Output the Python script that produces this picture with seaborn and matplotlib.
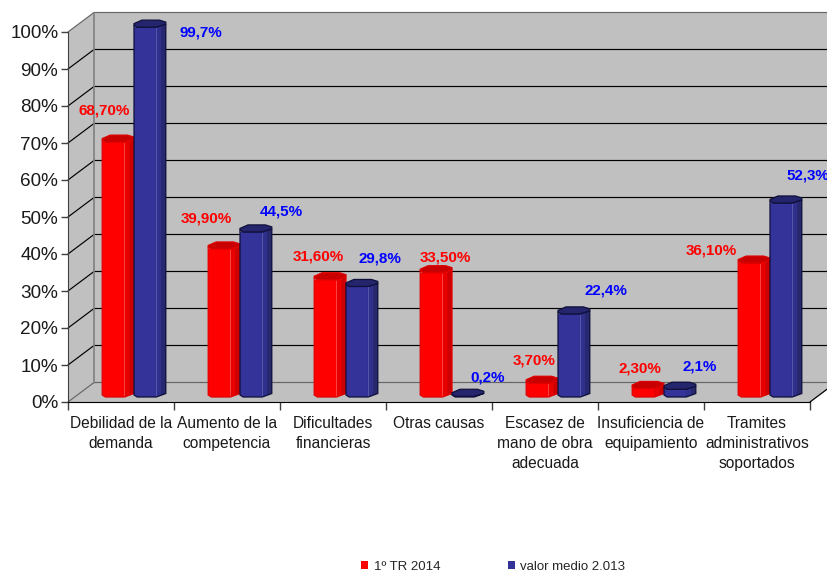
import numpy as np
import matplotlib
matplotlib.use("Agg")
import matplotlib.pyplot as plt
from matplotlib.patches import Polygon
import pandas as pd
import seaborn as sns

categories = ["Debilidad de la\ndemanda", "Aumento de la\ncompetencia", "Dificultades\nfinancieras",
              "Otras causas", "Escasez de\nmano de obra\nadecuada", "Insuficiencia de\nequipamiento",
              "Tramites\nadministrativos\nsoportados"]
series_names = ["1º TR 2014", "valor medio 2.013"]
tr_2014 = [0.687, 0.399, 0.316, 0.335, 0.037, 0.023, 0.361]
medio_2013 = [0.997, 0.445, 0.298, 0.002, 0.224, 0.021, 0.523]
tr_labels = ["68,70%", "39,90%", "31,60%", "33,50%", "3,70%", "2,30%", "36,10%"]
medio_labels = ["99,7%", "44,5%", "29,8%", "0,2%", "22,4%", "2,1%", "52,3%"]

# label offsets from the bar top, in pixels
tr_off = [(-14, 32), (-18, 30), (-12, 23), (9, 15), (-8, 23), (-8, 20), (-43, 13)]
medio_off = [(51, -5), (25, 20), (18, 28), (20, 19), (32, 23), (20, 23), (22, 27)]

W, H = 828, 574
sns.set_style("white")
plt.rcParams['font.family'] = ['Liberation Sans', 'DejaVu Sans']

fig = plt.figure(figsize=(W/100, H/100), dpi=100)


def px_axes(x0, y0, x1, y1):
    return fig.add_axes([x0/W, 1-y0/H, (x1-x0)/W, (y0-y1)/H])


# front axis
ax = px_axes(68, 402, 810, 32)
ax.patch.set_visible(False)
ax.set_xlim(-0.5, 6.5)
ax.set_ylim(0, 1)
for s in ["top", "right"]:
    ax.spines[s].set_visible(False)
ax.spines["left"].set_color("#404040")
ax.spines["bottom"].set_color("black")
ax.set_yticks(np.arange(0, 1.01, 0.1))
ax.set_yticklabels([f"{i}%" for i in range(0, 101, 10)], fontsize=13.6, color="#1a1a1a")
ax.tick_params(axis="y", length=5, width=1, color="#404040", pad=2, left=True)
ax.set_xticks(range(7))
ax.set_xticklabels(categories, fontsize=11.2, color="#1a1a1a", linespacing=1.42)
ax.set_xticks(np.arange(-0.5, 7), minor=True)
ax.tick_params(axis="x", which="major", length=0, pad=10, bottom=False)
ax.tick_params(axis="x", which="minor", length=6, width=1, color="#404040", bottom=True)

# walls of the 3d box
dx = 26 / 106
dy = 19.5 / 370
ax.add_patch(Polygon([(-0.5+dx, dy), (7, dy), (7, 1+dy), (-0.5+dx, 1+dy)], fc="#c0c0c0", ec="none", clip_on=False, zorder=0))
ax.add_patch(Polygon([(-0.5, 0), (-0.5+dx, dy), (-0.5+dx, 1+dy), (-0.5, 1)], fc="#c0c0c0", ec="none", clip_on=False, zorder=0))
ax.add_patch(Polygon([(-0.5, 0), (-0.5+dx, dy), (6.5+dx, dy), (6.5, 0)], fc="#c0c0c0", ec="none", clip_on=False, zorder=0))
for v in np.arange(0, 1.01, 0.1):
    col = "#666666" if v < 0.01 or v > 0.99 else "black"
    ax.plot([-0.5, -0.5+dx, 7], [v, v+dy, v+dy], color=col, lw=0.85, clip_on=False, zorder=0.5)
ax.plot([-0.5+dx, -0.5+dx], [dy, 1+dy], color="#808080", lw=1.2, clip_on=False, zorder=0.5)
ax.plot([6.5, 6.5+dx], [0, dy], color="black", lw=0.9, clip_on=False, zorder=0.5)

# bars sit on their own axes, shifted onto the floor
bx = px_axes(81, 397, 823, 26)
bx.patch.set_visible(False)
df = pd.DataFrame({"cat": categories*2,
                   "serie": [series_names[0]]*7 + [series_names[1]]*7,
                   "valor": tr_2014 + medio_2013})
sns.barplot(data=df, x="cat", y="valor", hue="serie", hue_order=series_names,
            palette=["#ff0000", "#333399"], width=0.6, gap=0, errorbar=None,
            saturation=1, linewidth=0, ax=bx)
bx.set_xlim(-0.5, 6.5)
bx.set_ylim(0, 1)
bx.set_axis_off()

py = 1 / 371
styles = [dict(side=["#e80000", "#cc0000"], top="#c80000", edge="#e00000", line="#ff5050"),
          dict(side=["#2f2f8c", "#28286f"], top="#25256e", edge="#10103c", line="#6060b0")]


def bottom_y(f):
    return 0 if f < 0.7 else (f-0.7)/0.3*3.5*py


def top_y(f, v):
    return v if f < 0.7 else v + (f-0.7)/0.3*3*py


for k, container in enumerate(bx.containers):
    st = styles[k]
    zo = 2 + k
    for bar in container:
        x0 = bar.get_x()
        w = bar.get_width()
        v = bar.get_height()
        x1 = x0 + w
        bar.set_zorder(zo)
        body = [(x0, v+2*py), (x0+.1*w, v), (x0+.7*w, v), (x1, v+3*py), (x1, 3.5*py),
                (x0+.7*w, 0), (x0+.1*w, 0), (x0, 2*py)]
        shape = Polygon(body, fc="none", ec=st["edge"], lw=0.9, zorder=zo+0.4, clip_on=False)
        bx.add_patch(shape)
        bar.set_clip_path(shape)
        # darker strips on the right of the cylinder
        for (f0, f1), c in zip([(0.68, 0.85), (0.85, 1.0)], st["side"]):
            bx.add_patch(Polygon([(x0+f0*w, top_y(f0, v)), (x0+f1*w, top_y(f1, v)),
                                  (x0+f1*w, bottom_y(f1)), (x0+f0*w, bottom_y(f0))],
                                 fc=c, ec="none", zorder=zo+0.1, clip_on=False))
        if v > 0.03:
            bx.plot([x0+.7*w, x0+.7*w], [0, v], color=st["line"], lw=0.6, zorder=zo+0.2)
        face = [(x0, v+2*py), (x0+.1*w, v), (x0+.7*w, v), (x1, v+3*py), (x1, v+5*py),
                (x0+.8*w, v+7*py), (x0+.25*w, v+7*py), (x0, v+3.5*py)]
        bx.add_patch(Polygon(face, fc=st["top"], ec=st["edge"], lw=0.9, zorder=zo+0.5, clip_on=False))

for container, labels, offs, col in [(bx.containers[0], tr_labels, tr_off, "#ff0000"),
                                     (bx.containers[1], medio_labels, medio_off, "#0000ff")]:
    for bar, lab, off in zip(container, labels, offs):
        bx.annotate(lab, (bar.get_x()+bar.get_width()/2, bar.get_height()), xytext=off,
                    textcoords="offset pixels", ha="center", va="center", color=col,
                    fontsize=10.9, fontweight="bold", zorder=10, annotation_clip=False)

sns.move_legend(bx, "lower left", bbox_to_anchor=(361/W, 1/H), bbox_transform=fig.transFigure,
                ncol=2, title=None, frameon=False, fontsize=9.5, handlelength=0.55, handleheight=0.55,
                handletextpad=0.42, columnspacing=5.1, borderpad=0, borderaxespad=0)

plt.savefig("out.png", dpi=100)
